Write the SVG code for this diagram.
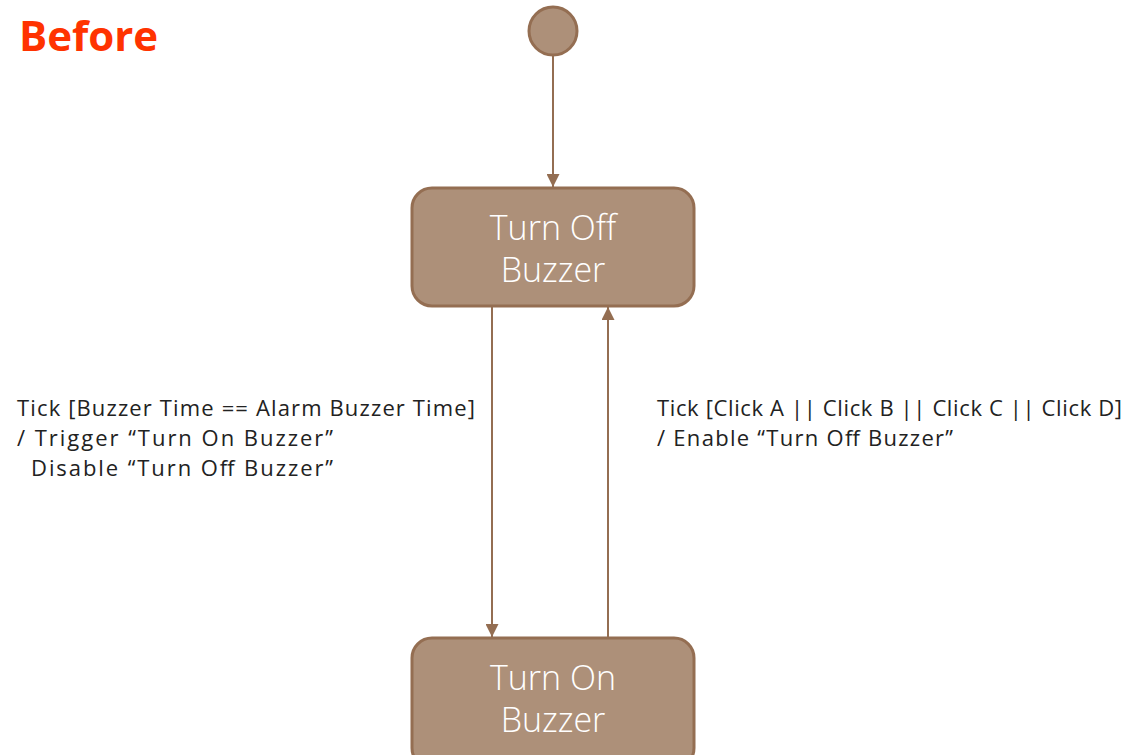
<svg xmlns="http://www.w3.org/2000/svg" width="1127" height="755" viewBox="0 0 1127 755">
<style>
.node{fill:#AD9079;stroke:#946E52;stroke-width:3}
.ntext{font-family:"Open Sans","Noto Sans",sans-serif;font-size:34px;font-weight:300;fill:#FFFFFF;text-anchor:middle}
.lbl{font-family:"Open Sans","Noto Sans",sans-serif;font-size:22px;fill:#222222}
.edge{stroke:#946E52;stroke-width:2;fill:none}
.title{font-family:"Open Sans","Noto Sans",sans-serif;font-size:42px;font-weight:bold;fill:#FF3300}
</style>
<defs>
<marker id="arrh" viewBox="0 0 10 10" refX="10" refY="5" markerWidth="13" markerHeight="13" orient="auto" markerUnits="userSpaceOnUse">
<path d="M0,0 L10,5 L0,10 z" fill="#946E52"/>
</marker>
</defs>
<rect width="1127" height="755" fill="#FFFFFF"/>
<text class="title" x="19" y="51">Before</text>
<g id="connectors">
<line class="edge" x1="553" y1="56" x2="553" y2="187" marker-end="url(#arrh)"/>
<line class="edge" x1="492" y1="307" x2="492" y2="637" marker-end="url(#arrh)"/>
<line class="edge" x1="608" y1="637" x2="608" y2="307" marker-end="url(#arrh)"/>
</g>
<g id="initial">
<circle class="node" cx="553" cy="31" r="24"/>
</g>
<g id="turn-off-buzzer">
<rect class="node" x="412" y="188" width="282" height="118" rx="20"/>
<text class="ntext" x="553" y="240">Turn Off</text>
<text class="ntext" x="553" y="282">Buzzer</text>
</g>
<g id="turn-on-buzzer">
<rect class="node" x="412" y="638" width="282" height="130" rx="20"/>
<text class="ntext" x="553" y="690">Turn On</text>
<text class="ntext" x="553" y="732">Buzzer</text>
</g>
<g id="label-left">
<text class="lbl" x="17" y="416" textLength="458" lengthAdjust="spacing">Tick [Buzzer Time == Alarm Buzzer Time]</text>
<text class="lbl" x="17" y="446" textLength="316" lengthAdjust="spacing">/ Trigger “Turn On Buzzer”</text>
<text class="lbl" x="31" y="476" textLength="302" lengthAdjust="spacing">Disable “Turn Off Buzzer”</text>
</g>
<g id="label-right">
<text class="lbl" x="657" y="416" textLength="465" lengthAdjust="spacing">Tick [Click A || Click B || Click C || Click D]</text>
<text class="lbl" x="657" y="446" textLength="296" lengthAdjust="spacing">/ Enable “Turn Off Buzzer”</text>
</g>
</svg>
